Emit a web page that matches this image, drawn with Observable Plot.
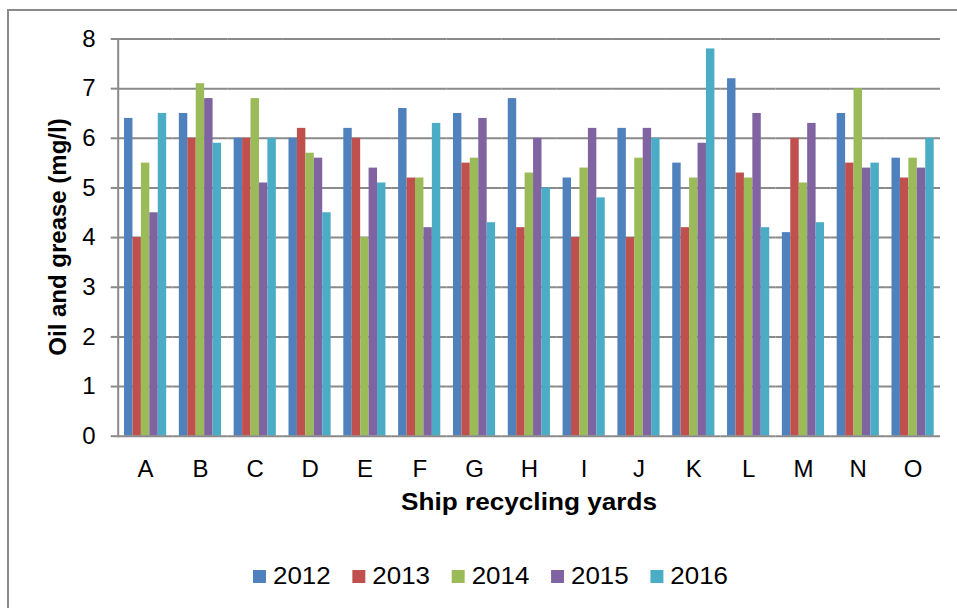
<!DOCTYPE html>
<html>
<head>
<meta charset="utf-8">
<script src="https://cdn.jsdelivr.net/npm/d3@7"></script>
<script src="https://cdn.jsdelivr.net/npm/@observablehq/plot@0.6"></script>
<style>
  html, body { margin: 0; padding: 0; background: #fff; overflow: hidden; }
  #wrap { position: relative; width: 957px; height: 608px; font-family: "Liberation Sans", Arial, sans-serif; color: #000; }
  #border { position: absolute; left: 7px; top: 9px; width: 1000px; height: 700px; border: 2px solid #8a8a8a; box-sizing: border-box; }
  #chart { position: absolute; left: 0; top: 0; }
  .title { position: absolute; font-weight: bold; font-size: 24px; line-height: 1; white-space: nowrap; }
  #xtitle { left: 528.8px; top: 489.7px; transform: translateX(-50%) scaleX(1.09); }
  #ytitle { left: 58px; top: 237px; transform: translate(-50%, -50%) rotate(-90deg); }
  #legend { position: absolute; left: 253px; top: 564px; display: flex; align-items: center; gap: 20.1px; font-size: 24px; line-height: 1; transform: scaleX(1.08); transform-origin: 0 50%; }
  .item { display: flex; align-items: center; gap: 6.5px; }
  .swatch { width: 12px; height: 13px; }
</style>
</head>
<body>
<div id="wrap">
  <div id="border"></div>
  <div id="chart"></div>
  <div id="xtitle" class="title">Ship recycling yards</div>
  <div id="ytitle" class="title">Oil and grease (mg/l)</div>
  <div id="legend"></div>
</div>
<script>
// Oil and grease concentration (mg/l) per ship recycling yard, 2012–2016
const yards = ["A", "B", "C", "D", "E", "F", "G", "H", "I", "J", "K", "L", "M", "N", "O"];
const years = ["2012", "2013", "2014", "2015", "2016"];
const v2012 = [6.4, 6.5, 6.0, 6.0, 6.2, 6.6, 6.5, 6.8, 5.2, 6.2, 5.5, 7.2, 4.1, 6.5, 5.6];
const v2013 = [4.0, 6.0, 6.0, 6.2, 6.0, 5.2, 5.5, 4.2, 4.0, 4.0, 4.2, 5.3, 6.0, 5.5, 5.2];
const v2014 = [5.5, 7.1, 6.8, 5.7, 4.0, 5.2, 5.6, 5.3, 5.4, 5.6, 5.2, 5.2, 5.1, 7.0, 5.6];
const v2015 = [4.5, 6.8, 5.1, 5.6, 5.4, 4.2, 6.4, 6.0, 6.2, 6.2, 5.9, 6.5, 6.3, 5.4, 5.4];
const v2016 = [6.5, 5.9, 6.0, 4.5, 5.1, 6.3, 4.3, 5.0, 4.8, 6.0, 7.8, 4.2, 4.3, 5.5, 6.0];
const yTicks = [0, 1, 2, 3, 4, 5, 6, 7, 8];
const colors = ["#4F81BD", "#C0504D", "#9BBB59", "#8064A2", "#4BACC6"];

const series = [v2012, v2013, v2014, v2015, v2016];
const rows = [];
yards.forEach((yard, i) => {
  years.forEach((year, j) => rows.push({ yard, year, value: series[j][i] }));
});

const gridColor = "#8a8a8a";

const chart = Plot.plot({
  width: 957,
  height: 530,
  marginTop: 38.5,
  marginBottom: 94.3,
  marginLeft: 117.7,
  marginRight: 17,
  style: { fontFamily: "'Liberation Sans', Arial, sans-serif", fontSize: "24px", color: "#000", background: "transparent", overflow: "visible" },
  fx: { domain: yards, padding: 0, round: false, label: null },
  x: { domain: years, paddingInner: 0, paddingOuter: 0.75, round: false, axis: null },
  y: { domain: [0, 8] },
  color: { domain: years, range: colors },
  marks: [
    // horizontal gridlines, repeated in every yard's facet so they join up
    Plot.ruleY(yTicks.filter((d) => d > 0), { stroke: gridColor, strokeWidth: 2 }),
    Plot.barY(rows, { fx: "yard", x: "year", y: "value", fill: "year" }),
    Plot.ruleY([0], { stroke: gridColor, strokeWidth: 2 }),
    // vertical axis line on the leftmost facet only
    Plot.frame({ anchor: "left", stroke: gridColor, strokeWidth: 2, facetAnchor: "left" }),
    Plot.axisY({ ticks: yTicks, tickSize: 7, tickPadding: 15.5, stroke: gridColor, strokeWidth: 2, fontSize: 24, label: null }),
    Plot.axisFx({ anchor: "bottom", tickSize: 0, tickPadding: 24, fontSize: 24, label: null })
  ]
});
document.getElementById("chart").appendChild(chart);

// Legend: one swatch and label per year
const legend = document.getElementById("legend");
years.forEach((year, j) => {
  const item = document.createElement("div");
  item.className = "item";
  const sw = document.createElement("div");
  sw.className = "swatch";
  sw.style.background = colors[j];
  const label = document.createElement("span");
  label.textContent = year;
  item.appendChild(sw);
  item.appendChild(label);
  legend.appendChild(item);
});
</script>
</body>
</html>
